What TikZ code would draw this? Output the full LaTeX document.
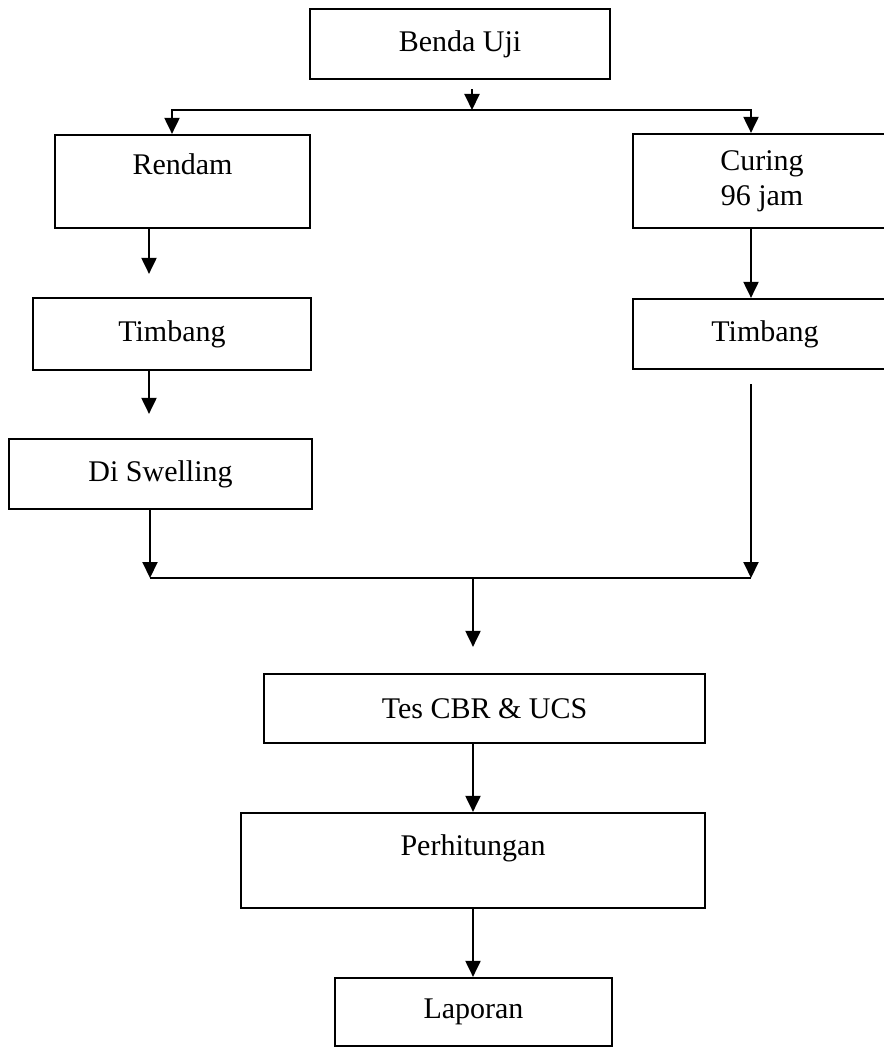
\documentclass[tikz,border=0pt]{standalone}
\usepackage{fontspec}
\setmainfont{Liberation Serif}
\usepackage{tikz}
\usetikzlibrary{arrows.meta}

\begin{document}
\begin{tikzpicture}[x=1pt,y=-1pt,
  box/.style={draw, line width=2.2pt, inner sep=0pt, align=center,
    font=\fontsize{30}{35}\selectfont},
  arr/.style={line width=2pt, -{Triangle[length=16pt,width=15pt]}},
  lin/.style={line width=2.2pt}]
  \useasboundingbox (0,0) rectangle (883,1048);

  % Boxes
  \node[box, minimum width=300pt, minimum height=70pt] (benda) at (460,44) {Benda Uji};
  \node[box, minimum width=255pt, text height=40pt, text depth=53pt] (rendam) at (182.5,181.5) {Rendam};
  \node[box, minimum width=258pt, minimum height=94pt] (curing) at (762,181) {Curing\\96 jam};
  \node[box, minimum width=278pt, minimum height=72pt] (timbangL) at (172,334) {Timbang};
  \node[box, minimum width=264pt, minimum height=70pt] (timbangR) at (765,334) {Timbang};
  \node[box, minimum width=303pt, minimum height=70pt] (swelling) at (160.5,474) {Di Swelling};
  \node[box, minimum width=441pt, minimum height=69pt] (tes) at (484.5,708.5) {Tes CBR \& UCS};
  \node[box, minimum width=464pt, text height=42pt, text depth=53pt] (hitung) at (473,860.5) {Perhitungan};
  \node[box, minimum width=277pt, minimum height=68pt] (laporan) at (473.5,1012) {Laporan};

  % Split
  \coordinate (splitL) at (172,110);
  \coordinate (splitM) at (472,110);
  \coordinate (splitR) at (751,110);
  \coordinate (lcol) at (149,0);
  \draw[arr, shorten <=9pt] (benda.south -| splitM) -- (splitM);
  \draw[arr] (splitM) -- (splitL) -- (rendam.north -| splitL);
  \draw[arr] (splitM) -- (splitR) -- (curing.north -| splitR);

  % Left branch
  \draw[arr, shorten >=23pt] (rendam.south -| lcol) -- (timbangL.north -| lcol);
  \draw[arr, shorten >=24pt] (timbangL.south -| lcol) -- (swelling.north -| lcol);

  % Right branch
  \draw[arr] (curing.south -| splitR) -- (timbangR.north -| splitR);

  % Merge
  \coordinate (mergeL) at (150,578);
  \coordinate (mergeM) at (473,578);
  \coordinate (mergeR) at (751,578);
  \draw[arr] (swelling.south -| mergeL) -- (mergeL);
  \draw[arr, shorten <=14pt] (timbangR.south -| mergeR) -- (mergeR);
  \draw[lin] (mergeL) -- (mergeR);
  \draw[arr, shorten >=26pt] (mergeM) -- (tes.north -| mergeM);

  % Bottom
  \draw[arr] (tes.south -| mergeM) -- (hitung.north -| mergeM);
  \draw[arr] (hitung.south -| mergeM) -- (laporan.north -| mergeM);
\end{tikzpicture}
\end{document}
